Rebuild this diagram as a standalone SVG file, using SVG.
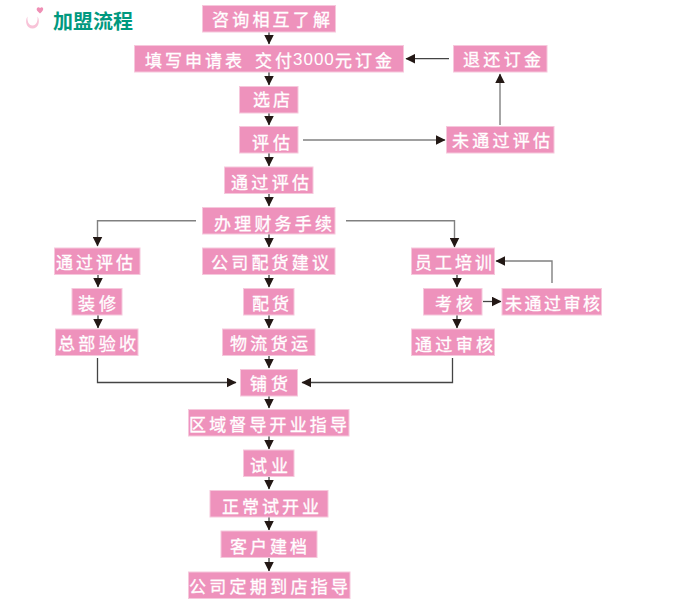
<svg xmlns="http://www.w3.org/2000/svg" width="680" height="600" viewBox="0 0 680 600">
<style>
.b{fill:#ee92bc;stroke:#f6c8dc;stroke-width:1}
.t{fill:#fff;stroke:#fff;stroke-width:.3;font:17px "Noto Sans CJK SC","Noto Sans CJK TC",sans-serif;dominant-baseline:central}
.n{stroke-width:0;font:17px "Liberation Sans","Noto Sans CJK SC",sans-serif;letter-spacing:1px}
.w{letter-spacing:3px}
.c{fill:none;stroke:#808080;stroke-width:1.4}
.s{fill:none;stroke:#444;stroke-width:1.3}
</style>
<defs>
<marker id="a" markerUnits="userSpaceOnUse" markerWidth="10" markerHeight="10" viewBox="0 0 9 9" refX="8.500" refY="4.500" orient="auto"><path d="M0 0L9 4.500L0 9z" fill="#231815"/></marker>
</defs>
<rect width="680" height="600" fill="#fff"/>
<g id="title">
<path d="M27.500 16.500C24.500 21 26.500 28.500 32.500 28.500C38.500 28.500 40.500 21 37.500 16.500C38 21 36.500 25.500 32.500 25.500C28.500 25.500 27 21 27.500 16.500z" fill="#f8c3d8"/>
<path d="M40 13.500C37 11 36 9.500 37 8C38 6.800 39.500 7 40 8.200C40.800 7 42.300 6.800 43 8C43.800 9.500 42.500 11.300 40 13.500z" fill="#ef8fb5"/>
<text x="53" y="20" style="fill:#00997f;font:bold 20px 'Noto Sans CJK SC',sans-serif;dominant-baseline:central">加盟流程</text>
</g>
<g id="connectors">
<path class="c" marker-end="url(#a)" d="M303 140H445"/>
<path class="c" marker-end="url(#a)" d="M500 125V74"/>
<path class="s" marker-end="url(#a)" d="M449 58.700H406"/>
<path class="c" marker-end="url(#a)" d="M196 220.700H97.500V246"/>
<path class="c" marker-end="url(#a)" d="M346 220.700H454.500V247"/>
<path class="s" marker-end="url(#a)" d="M483 301.500H501"/>
<path class="c" marker-end="url(#a)" d="M552 283V261H496"/>
<path class="s" marker-end="url(#a)" d="M97.500 358V382.500H236"/>
<path class="s" marker-end="url(#a)" d="M452.500 358V382.500H302"/>
<path class="s" marker-end="url(#a)" d="M269 32V44"/>
<path class="s" marker-end="url(#a)" d="M269 72V85"/>
<path class="s" marker-end="url(#a)" d="M269 113V125"/>
<path class="s" marker-end="url(#a)" d="M269 153V166"/>
<path class="s" marker-end="url(#a)" d="M269 193V206"/>
<path class="s" marker-end="url(#a)" d="M269 234V247"/>
<path class="s" marker-end="url(#a)" d="M269 274V287"/>
<path class="s" marker-end="url(#a)" d="M269 315V328"/>
<path class="s" marker-end="url(#a)" d="M269 355V368"/>
<path class="s" marker-end="url(#a)" d="M269 396V408"/>
<path class="s" marker-end="url(#a)" d="M269 436V449"/>
<path class="s" marker-end="url(#a)" d="M269 476V489"/>
<path class="s" marker-end="url(#a)" d="M269 517V530"/>
<path class="s" marker-end="url(#a)" d="M269 558V571"/>
<path class="s" marker-end="url(#a)" d="M98 274V287"/>
<path class="s" marker-end="url(#a)" d="M98 315V328"/>
<path class="s" marker-end="url(#a)" d="M457 274V287"/>
<path class="s" marker-end="url(#a)" d="M457 315V328"/>
</g>
<g id="n1"><rect class="b" x="202.500" y="5.500" width="133" height="26.500"/><text class="t" x="212" y="18.500" textLength="118" lengthAdjust="spacing">咨询相互了解</text></g>
<g id="n2"><rect class="b" x="134.500" y="45.500" width="269" height="26.500"/><text class="t" y="58.500"><tspan class="w" x="145">填写申请表</tspan><tspan class="w" x="255">交付</tspan><tspan class="n" x="293">3000</tspan><tspan class="w" x="335">元订金</tspan></text></g>
<g id="n3"><rect class="b" x="453.500" y="45.500" width="93.500" height="26.500"/><text class="t" x="463" y="58.500" textLength="78" lengthAdjust="spacing">退还订金</text></g>
<g id="n4"><rect class="b" x="239.500" y="86.500" width="58.500" height="26.500"/><text class="t" x="253" y="98.500" textLength="37" lengthAdjust="spacing">选店</text></g>
<g id="n5"><rect class="b" x="239.500" y="126.500" width="58.500" height="26.500"/><text class="t" x="252" y="141" textLength="38" lengthAdjust="spacing">评估</text></g>
<g id="n6"><rect class="b" x="446.500" y="126.500" width="107.500" height="26.500"/><text class="t" x="452" y="139.500" textLength="98" lengthAdjust="spacing">未通过评估</text></g>
<g id="n7"><rect class="b" x="224.500" y="167" width="88.500" height="26.500"/><text class="t" x="231" y="181" textLength="78" lengthAdjust="spacing">通过评估</text></g>
<g id="n8"><rect class="b" x="202.500" y="207.500" width="132.500" height="26.500"/><text class="t" x="214" y="222" textLength="118" lengthAdjust="spacing">办理财务手续</text></g>
<g id="n9"><rect class="b" x="54.500" y="248" width="85.500" height="26.500"/><text class="t" x="56" y="261.500" textLength="77" lengthAdjust="spacing">通过评估</text></g>
<g id="n10"><rect class="b" x="202.500" y="248" width="132.500" height="26.500"/><text class="t" x="211" y="261.500" textLength="118" lengthAdjust="spacing">公司配货建议</text></g>
<g id="n11"><rect class="b" x="411.500" y="248" width="83" height="26.500"/><text class="t" x="415" y="261" textLength="77" lengthAdjust="spacing">员工培训</text></g>
<g id="n12"><rect class="b" x="72" y="288.500" width="50" height="26.500"/><text class="t" x="78" y="302" textLength="38" lengthAdjust="spacing">装修</text></g>
<g id="n13"><rect class="b" x="243.500" y="288.500" width="50.500" height="26.500"/><text class="t" x="252" y="302" textLength="37" lengthAdjust="spacing">配货</text></g>
<g id="n14"><rect class="b" x="423.500" y="288.500" width="58.500" height="26.500"/><text class="t" x="435" y="302.500" textLength="38" lengthAdjust="spacing">考核</text></g>
<g id="n15"><rect class="b" x="502" y="288.500" width="99.500" height="26.500"/><text class="t" x="505" y="302" textLength="95" lengthAdjust="spacing">未通过审核</text></g>
<g id="n16"><rect class="b" x="55.500" y="329" width="82.500" height="26.500"/><text class="t" x="58" y="342" textLength="78" lengthAdjust="spacing">总部验收</text></g>
<g id="n17"><rect class="b" x="222.500" y="329" width="92.500" height="26.500"/><text class="t" x="230" y="342" textLength="78" lengthAdjust="spacing">物流货运</text></g>
<g id="n18"><rect class="b" x="411.500" y="329" width="83" height="26.500"/><text class="t" x="415" y="343" textLength="78" lengthAdjust="spacing">通过审核</text></g>
<g id="n19"><rect class="b" x="240.500" y="369.500" width="57" height="26.500"/><text class="t" x="250" y="382" textLength="38" lengthAdjust="spacing">铺货</text></g>
<g id="n20"><rect class="b" x="188.500" y="409.500" width="160.500" height="26.500"/><text class="t" x="189" y="423" textLength="158" lengthAdjust="spacing">区域督导开业指导</text></g>
<g id="n21"><rect class="b" x="243.500" y="450" width="50.500" height="26.500"/><text class="t" x="250" y="464" textLength="38" lengthAdjust="spacing">试业</text></g>
<g id="n22"><rect class="b" x="210" y="490.500" width="118" height="26.500"/><text class="t" x="222" y="505" textLength="97" lengthAdjust="spacing">正常试开业</text></g>
<g id="n23"><rect class="b" x="221" y="531" width="96" height="26.500"/><text class="t" x="230" y="545.500" textLength="77" lengthAdjust="spacing">客户建档</text></g>
<g id="n24"><rect class="b" x="188.500" y="572" width="161.500" height="26.500"/><text class="t" x="189" y="585.500" textLength="159" lengthAdjust="spacing">公司定期到店指导</text></g>
</svg>
